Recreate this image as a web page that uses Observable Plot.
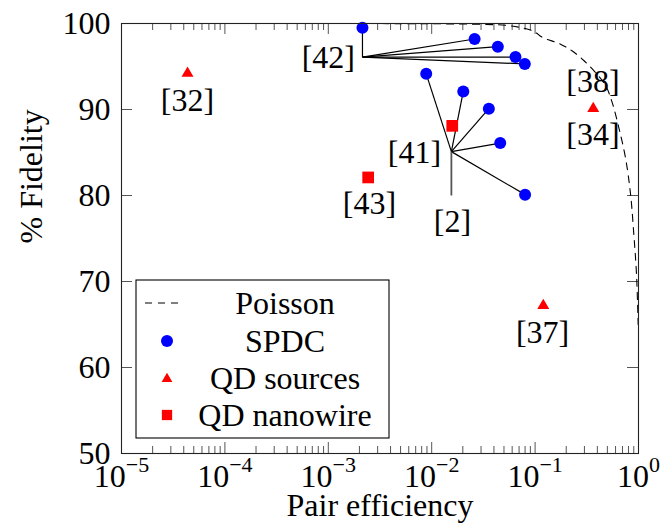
<!DOCTYPE html>
<html><head><meta charset="utf-8">
<script src="https://cdn.jsdelivr.net/npm/d3@7"></script>
<script src="https://cdn.jsdelivr.net/npm/@observablehq/plot@0.6"></script>
<style>body{margin:0;background:#fff} svg{display:block} svg, svg text{font-family:"Liberation Serif","DejaVu Serif",serif !important}</style>
</head><body><div id="chart"></div>
<script>
// ---- data ----
// SPDC sources (pair efficiency, % fidelity, citation group)
const spdcEff = [0.00214, 0.026, 0.0436, 0.0646, 0.0795, 0.00885, 0.0202, 0.0357, 0.046, 0.080];
const spdcFid = [99.5, 98.2, 97.3, 96.1, 95.3, 94.15, 92.1, 90.1, 86.1, 80.1];
const spdcRef = ["42", "42", "42", "42", "42", "41", "41", "41", "41", "41"];
// QD sources
const qdEff = [4.35e-5, 0.365, 0.12];
const qdFid = [94.2, 90.1, 67.2];
// QD nanowire
const nwEff = [0.0158, 0.00243];
const nwFid = [88.1, 82.1];
// Poisson limit curve
const poissonEff = [1e-5, 1e-3, 0.01, 0.03, 0.0578, 0.0966, 0.117, 0.176, 0.229, 0.296, 0.384, 0.48, 0.557, 0.645, 0.748, 0.837, 0.901, 0.956, 0.993];
const poissonFid = [100, 100, 99.97, 99.9, 99.73, 99.1, 98.4, 97.6, 96.8, 95.7, 94.3, 92.8, 90.8, 87.9, 84.4, 80.2, 75.5, 70.9, 65.0];
// citation labels
const citeText = ["[42]", "[41]", "[2]", "[43]", "[32]", "[38]", "[34]", "[37]"];
const citeEff = [0.001, 0.00682, 0.0159, 0.0025, 4.35e-5, 0.363, 0.363, 0.118];
const citeFid = [96.0, 85.0, 77.0, 79.0, 91.0, 93.2, 87.06, 64.0];
// leader-line hubs
const hubRef = ["42", "41"];
const hubEff = [0.00214, 0.0155];
const hubFid = [96.1, 85.1];
// leader from the [41] hub down to the [2] label
const leader2Eff = [0.0155, 0.0155];
const leader2Fid = [85.1, 80.0];
// ticks
const xMajor = [1e-5, 1e-4, 1e-3, 1e-2, 1e-1, 1];
const xMinor = [];
for (const e of [-5, -4, -3, -2, -1]) for (const k of [2,3,4,5,6,7,8,9]) xMinor.push(k * Math.pow(10, e));
const yMajor = [50, 60, 70, 80, 90, 100];
const legendLabels = ["Poisson", "SPDC", "QD sources", "QD nanowire"];

// ---- build tables ----
const spdc = spdcEff.map((x, i) => ({x, y: spdcFid[i], ref: spdcRef[i]}));
const qd = qdEff.map((x, i) => ({x, y: qdFid[i]}));
const nw = nwEff.map((x, i) => ({x, y: nwFid[i]}));
const poisson = poissonEff.map((x, i) => ({x, y: poissonFid[i]}));
const cites = citeText.map((t, i) => ({t, x: citeEff[i], y: citeFid[i]}));
const hubs = Object.fromEntries(hubRef.map((r, i) => [r, {x: hubEff[i], y: hubFid[i]}]));
const leader2 = [{x1: leader2Eff[0], y1: leader2Fid[0], x2: leader2Eff[1], y2: leader2Fid[1]}];

const W = 662, H = 529, mL = 121, mR = 24, mT = 23, mB = 76;
const fw = W - mL - mR, fh = H - mT - mB;
const BLUE = "#0000ff", RED = "#ff0000", TICK = "#555";
const FONT = '"Liberation Serif", "DejaVu Serif", serif';

const plot = Plot.plot({
  width: W, height: H,
  marginLeft: mL, marginRight: mR, marginTop: mT, marginBottom: mB,
  style: {fontFamily: FONT, fontSize: "32px", background: "white", overflow: "visible"},
  x: {type: "log", domain: [1e-5, 1], ticks: xMajor, tickFormat: d => "10^" + Math.round(Math.log10(d)), tickSize: 0, tickPadding: 11, label: null},
  y: {domain: [50, 100], ticks: yMajor, tickSize: 0, tickPadding: 11, label: null},
  marks: [
    // inward ticks
    Plot.tickX(xMajor, {x: d => d, insetTop: fh - 11, stroke: TICK}),
    Plot.tickX(xMajor, {x: d => d, insetBottom: fh - 11, stroke: TICK}),
    Plot.tickX(xMinor, {x: d => d, insetTop: fh - 7, stroke: TICK}),
    Plot.tickX(xMinor, {x: d => d, insetBottom: fh - 7, stroke: TICK}),
    Plot.tickY(yMajor, {y: d => d, insetRight: fw - 11, stroke: TICK}),
    Plot.tickY(yMajor, {y: d => d, insetLeft: fw - 11, stroke: TICK}),
    // Poisson
    Plot.line(poisson, {x: "x", y: "y", stroke: "black", strokeWidth: 1.1, strokeDasharray: "7,6", curve: "catmull-rom"}),
    // leader lines
    Plot.link(spdc, {x1: d => hubs[d.ref].x, y1: d => hubs[d.ref].y, x2: "x", y2: "y", stroke: "black", strokeWidth: 1.2}),
    Plot.link(leader2, {x1: "x1", y1: "y1", x2: "x2", y2: "y2", stroke: "#555", strokeWidth: 1.8}),
    // points
    Plot.dot(spdc, {x: "x", y: "y", r: 6, fill: BLUE, symbol: "circle"}),
    Plot.dot(qd, {x: "x", y: "y", r: 4.45, fill: RED, symbol: "triangle"}),
    Plot.dot(nw, {x: "x", y: "y", r: 6.6, fill: RED, symbol: "square"}),
    // citation labels
    Plot.text(cites, {x: "x", y: "y", text: "t", fill: "black", fontSize: 32, ariaLabel: "cite"}),
    // axis labels
    Plot.text(["Pair efficiency"], {frameAnchor: "bottom", text: d => d, dy: 62, fill: "black", fontSize: 32}),
    Plot.text(["% Fidelity"], {frameAnchor: "left", text: d => d, rotate: -90, dx: -90, dy: 5, fill: "black", fontSize: 32}),
    Plot.frame({stroke: "#222", strokeWidth: 1.1})
  ]
});

document.getElementById("chart").appendChild(plot);
const svg = d3.select(plot);

// superscript exponents on the x-axis labels
svg.selectAll("text").each(function() {
  const m = /^10\^(-?\d+)$/.exec(this.textContent);
  if (!m) return;
  const exp = m[1].replace("-", "\u2212");
  const t = d3.select(this);
  t.text("");
  t.append("tspan").text("10");
  t.append("tspan").attr("dy", -15).attr("font-size", 22).text(exp);
});

// citation labels: black brackets, blue numbers
svg.selectAll('g[aria-label="cite"] text').each(function() {
  const s = this.textContent;
  const m = /^\[(.*)\]$/.exec(s);
  if (!m) return;
  const t = d3.select(this);
  t.text("");
  t.append("tspan").attr("fill", "black").text("[");
  t.append("tspan").attr("fill", BLUE).text(m[1]);
  t.append("tspan").attr("fill", "black").text("]");
});

// legend
const lg = svg.append("g").attr("font-family", FONT).attr("font-size", 32);
lg.append("rect").attr("x", 136).attr("y", 280).attr("width", 253).attr("height", 158)
  .attr("fill", "white").attr("stroke", "black").attr("stroke-width", 1.1);
const rowY = [303, 341, 378, 415];
lg.append("line").attr("x1", 145).attr("x2", 184).attr("y1", rowY[0]).attr("y2", rowY[0])
  .attr("stroke", "black").attr("stroke-width", 1.1).attr("stroke-dasharray", "7,6");
lg.append("circle").attr("cx", 167).attr("cy", rowY[1]).attr("r", 6).attr("fill", BLUE);
lg.append("path").attr("transform", `translate(167,${rowY[2] + 1})`)
  .attr("d", d3.symbol(d3.symbolTriangle, 4.0 * 4.0 * Math.PI)()).attr("fill", RED);
lg.append("path").attr("transform", `translate(167,${rowY[3]})`)
  .attr("d", d3.symbol(d3.symbolSquare, 5.8 * 5.8 * Math.PI)()).attr("fill", RED);
legendLabels.forEach((s, i) => {
  lg.append("text").attr("x", 285).attr("y", rowY[i] + 10.5).attr("text-anchor", "middle").attr("fill", "black").text(s);
});
</script>
</body></html>
